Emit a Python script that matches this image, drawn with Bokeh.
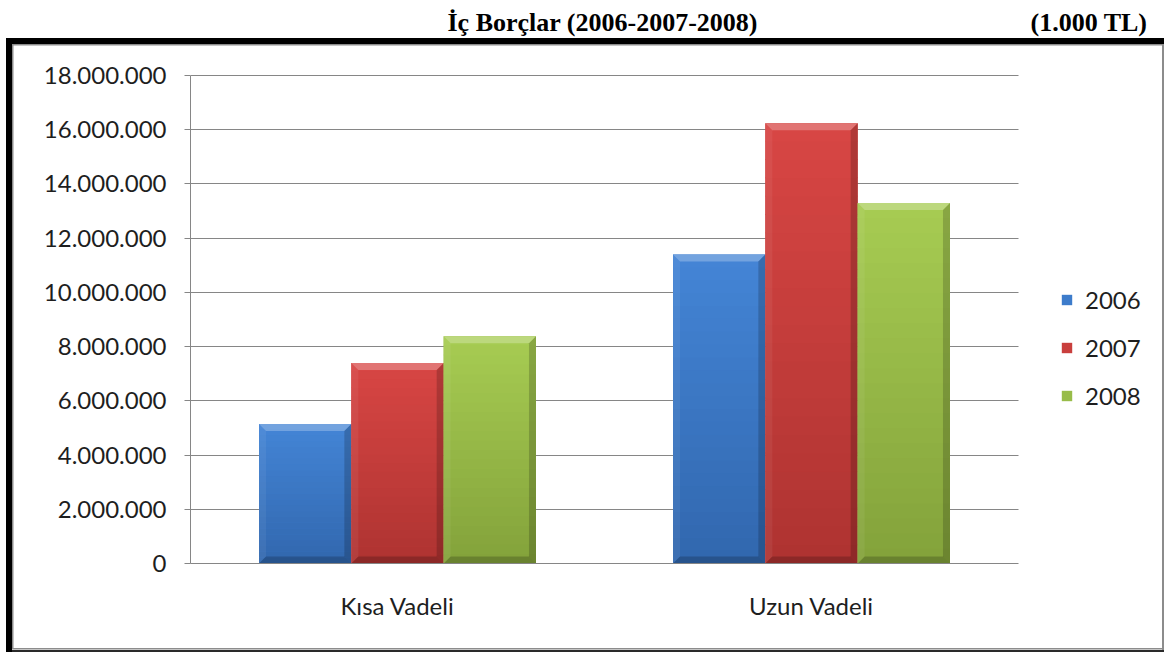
from bokeh.plotting import figure
from bokeh.models import (Range1d, FixedTicker, Legend, LegendItem, Label,
                          ColumnDataSource)
from bokeh.embed import file_html
from bokeh.resources import INLINE

# ---------------- data ----------------
categories = ["Kısa Vadeli", "Uzun Vadeli"]
years = ["2006", "2007", "2008"]
values_2006 = [5150000, 11400000]
values_2007 = [7400000, 16240000]
values_2008 = [8380000, 13300000]
y_ticks = [0, 2000000, 4000000, 6000000, 8000000, 10000000,
           12000000, 14000000, 16000000, 18000000]
y_tick_labels = ["0", "2.000.000", "4.000.000", "6.000.000", "8.000.000",
                 "10.000.000", "12.000.000", "14.000.000", "16.000.000",
                 "18.000.000"]
title_text = "İç Borçlar (2006-2007-2008)"
unit_text = "(1.000 TL)"

# ---------------- style / geometry ----------------
W, H = 1164, 652
PL, PR, PT, PB = 190, 1018, 75, 563     # plot-area edges (px)
YMAX = 18000000
XMAX = 2.0
series = [values_2006, values_2007, values_2008]
top_cols = ["#4485D6", "#D84644", "#A7CC52"]
bot_cols = ["#3167AE", "#AE3331", "#83A23B"]
mid_cols = ["#3D7CCB", "#C93F3D", "#98BC49"]
bar_w = 0.223
offsets = [-bar_w, 0.0, bar_w]
cat_x = [0.5 + i for i in range(len(categories))]
px_y = YMAX / (PB - PT)
px_x = XMAX / (PR - PL)
bev_x = 7 * px_x
bev_y = 7 * px_y
FONT = "Lato"
TXT = "#1e1e1e"
GRID = "#868686"


def hex2rgb(h):
    h = h.lstrip("#")
    return tuple(int(h[i:i + 2], 16) for i in (0, 2, 4))


def mix(c1, c2, t):
    a, b = hex2rgb(c1), hex2rgb(c2)
    return "#%02x%02x%02x" % tuple(int(round(a[i] + (b[i] - a[i]) * t)) for i in range(3))


# frame spans from the plot-area left edge to the right canvas edge and from the
# canvas top down to the category axis, so the header and legend sit inside it
x_end = XMAX * (W - PL) / (PR - PL)
y_end = YMAX * PB / (PB - PT)

p = figure(width=W, height=H, x_range=Range1d(0, x_end), y_range=Range1d(0, y_end),
           output_backend="svg", toolbar_location=None,
           min_border_left=PL, min_border_right=0,
           min_border_top=0, min_border_bottom=H - PB)
p.outline_line_color = None
p.background_fill_color = None
p.border_fill_color = None

# document-style frame around the chart (page decoration)
deco = [
    ("#000000", 6, 38, 1158, 6),
    ("#000000", 6, 38, 6, 614),
    ("#8c8c8c", 12, 44, 1152, 1.5),
    ("#8c8c8c", 12, 44, 1.5, 605),
    ("#8c8c8c", 1162, 44, 2, 606),
    ("#8c8c8c", 12, 648, 1152, 1.5),
    ("#2a2a2a", 6, 650, 1158, 2),
]
p.styles = {"background": ", ".join(
    "linear-gradient(%s,%s) %spx %spx / %spx %spx no-repeat" % (c, c, x, y, w, h)
    for c, x, y, w, h in deco) + ", #ffffff"}

# grid
p.xgrid.visible = False
yg = p.ygrid[0]
yg.ticker = FixedTicker(ticks=y_ticks)
yg.grid_line_color = GRID
yg.grid_line_width = 1
yg.bounds = (-1, YMAX + 1)
if "cross_bounds" in yg.properties():
    yg.cross_bounds = (0, XMAX)
else:
    yg.visible = False
    p.segment(x0=[0] * len(y_ticks[1:]), x1=[XMAX] * len(y_ticks[1:]),
              y0=y_ticks[1:], y1=y_ticks[1:], line_color=GRID, line_width=1,
              level="underlay")

# axes
ya = p.yaxis[0]
ya.ticker = FixedTicker(ticks=y_ticks)
ya.bounds = (0, YMAX)
ya.major_label_overrides = {t: l for t, l in zip(y_ticks, y_tick_labels)}
ya.axis_line_color = GRID
ya.major_tick_line_color = GRID
ya.major_tick_out = 6
ya.major_tick_in = 0
ya.minor_tick_line_color = None
ya.major_label_standoff = 18
ya.major_label_text_font = FONT
ya.major_label_text_font_size = "24px"
ya.major_label_text_color = TXT

xa = p.xaxis[0]
xa.ticker = FixedTicker(ticks=cat_x)
xa.bounds = (0, XMAX)
xa.major_label_overrides = {x: c for x, c in zip(cat_x, categories)}
xa.axis_line_color = GRID
xa.major_tick_line_color = None
xa.major_tick_out = 0
xa.major_tick_in = 0
xa.minor_tick_line_color = None
xa.major_label_standoff = 27
xa.major_label_text_font = FONT
xa.major_label_text_font_size = "24px"
xa.major_label_text_color = TXT

# bars
legend_items = []
N = 24
for si, (vals, yr) in enumerate(zip(series, years)):
    xs = [cx + offsets[si] for cx in cat_x]
    body = p.vbar(x=xs, top=vals, width=bar_w, bottom=0,
                  fill_color=mid_cols[si], line_color=None)
    legend_items.append(LegendItem(label=yr, renderers=[body]))
    L, R, B, T, C = [], [], [], [], []
    for x, v in zip(xs, vals):
        for k in range(N):
            L.append(x - bar_w / 2)
            R.append(x + bar_w / 2)
            B.append(v * k / N)
            T.append(v * (k + 1) / N + (0 if k == N - 1 else v * 0.002))
            C.append(mix(bot_cols[si], top_cols[si], (k + 0.5) / N))
    p.quad(source=ColumnDataSource(dict(left=L, right=R, bottom=B, top=T, color=C)),
           left="left", right="right", bottom="bottom", top="top",
           fill_color="color", line_color=None)
    tx, ty, lx, ly, rx, ry, bx, by = [], [], [], [], [], [], [], []
    for x, v in zip(xs, vals):
        x0, x1 = x - bar_w / 2, x + bar_w / 2
        tx.append([x0, x1, x1 - bev_x, x0 + bev_x])
        ty.append([v, v, v - bev_y, v - bev_y])
        lx.append([x0, x0 + bev_x, x0 + bev_x, x0])
        ly.append([v, v - bev_y, bev_y, 0])
        rx.append([x1, x1 - bev_x, x1 - bev_x, x1])
        ry.append([v, v - bev_y, bev_y, 0])
        bx.append([x0, x1, x1 - bev_x, x0 + bev_x])
        by.append([0, 0, bev_y, bev_y])
    p.patches(tx, ty, fill_color="white", fill_alpha=0.25, line_color=None)
    p.patches(lx, ly, fill_color="white", fill_alpha=0.06, line_color=None)
    p.patches(rx, ry, fill_color="black", fill_alpha=0.18, line_color=None)
    p.patches(bx, by, fill_color="black", fill_alpha=0.2, line_color=None)

legend = Legend(items=legend_items, location=(1060 - PL, 153),
                orientation="vertical", border_line_color=None,
                background_fill_alpha=0, padding=0, margin=0,
                glyph_width=13, glyph_height=13, label_standoff=12,
                label_height=24, spacing=19,
                label_text_font=FONT, label_text_font_size="24px",
                label_text_color=TXT)
p.add_layout(legend)

# header texts (inside the frame, above the plot area)
p.add_layout(Label(x=447 - PL, y=PB - 22, x_units="screen", y_units="screen",
                   text=title_text, text_font="Liberation Serif",
                   text_font_style="bold", text_font_size="26px",
                   text_color="black", text_baseline="alphabetic",
                   text_align="left"))
p.add_layout(Label(x=1147 - PL, y=PB - 22, x_units="screen", y_units="screen",
                   text=unit_text, text_font="Liberation Serif",
                   text_font_style="bold", text_font_size="26px",
                   text_color="black", text_baseline="alphabetic",
                   text_align="right"))

open("out.html", "w").write(file_html(p, INLINE))
